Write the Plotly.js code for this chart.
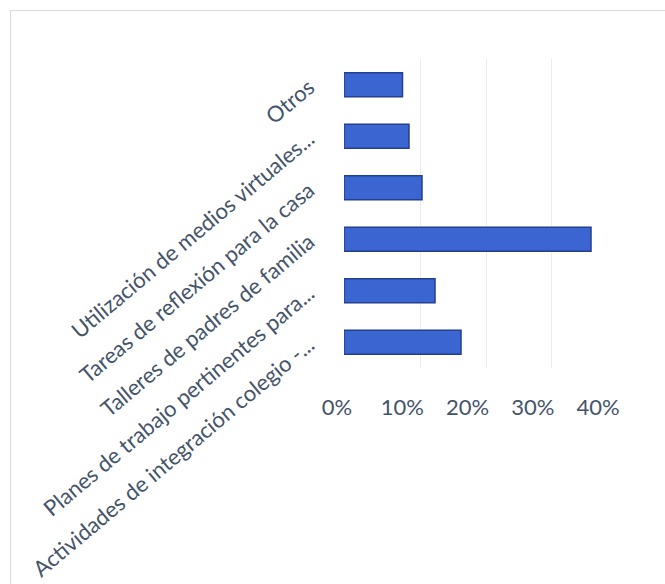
<!DOCTYPE html>
<html>
<head>
<meta charset="utf-8">
<script src="https://cdn.plot.ly/plotly-3.0.1.min.js"></script>
<style>
  html, body { margin: 0; padding: 0; background: #ffffff; }
  #wrap { position: relative; width: 665px; height: 584px; overflow: hidden; }
  #frame { position: absolute; left: 10px; top: 10px; width: 700px; height: 600px;
           border-top: 1.5px solid #d9dce6; border-left: 1.5px solid #d9dce6; pointer-events: none; }
  #chart { position: absolute; left: 0; top: 0; width: 665px; height: 584px; }
</style>
</head>
<body>
<div id="wrap">
  <div id="chart"></div>
  <div id="frame"></div>
</div>
<script>
// Categories, bottom to top as drawn
const categories = [
  "Actividades de integración colegio -...",
  "Planes de trabajo pertinentes para...",
  "Talleres de padres de familia",
  "Tareas de reflexión para la casa",
  "Utilización de medios virtuales...",
  "Otros"
];
const values = [0.18, 0.14, 0.38, 0.12, 0.10, 0.09];
const tickValues = [0, 0.1, 0.2, 0.3, 0.4];
const tickLabels = ["0%", "10%", "20%", "30%", "40%"];

const W = 665, H = 584;
const textColor = "#44546a";
const fontFamily = "Lato, 'Open Sans', sans-serif";
const fontSize = 22;

// invisible helper traces so the grid and label axes get drawn (drawn first, behind the bars)
const gridTrace = { type: "scatter", mode: "markers", x: [0, 0.4], y: [categories[0], categories[0]],
  xaxis: "x", yaxis: "y", marker: { opacity: 0 }, hoverinfo: "skip", showlegend: false };
const labelTrace = { type: "scatter", mode: "markers", x: [0, 0.4], y: [categories[0], categories[0]],
  xaxis: "x2", yaxis: "y", marker: { opacity: 0 }, hoverinfo: "skip", showlegend: false };
const barTrace = {
  type: "bar",
  orientation: "h",
  x: values,
  y: categories,
  xaxis: "x3",
  yaxis: "y",
  marker: { color: "#3b66d2", line: { color: "#233f8f", width: 1.5 } },
  hoverinfo: "x+y",
  showlegend: false
};

const px = v => v / W;
const py = v => 1 - v / H;

const layout = {
  width: W, height: H,
  margin: { l: 0, r: 0, t: 0, b: 0 },
  paper_bgcolor: "rgba(0,0,0,0)",
  plot_bgcolor: "rgba(0,0,0,0)",
  font: { family: fontFamily, color: textColor, size: fontSize },
  bargap: 0.53,
  xaxis: {
    domain: [px(355), px(617)], range: [0, 0.4], anchor: "y",
    tickvals: tickValues, showticklabels: false, showgrid: true, gridcolor: "#ececec",
    gridwidth: 1, zeroline: false, showline: false, ticks: ""
  },
  xaxis2: {
    domain: [px(337), px(598)], range: [0, 0.4], anchor: "y",
    tickvals: tickValues, ticktext: tickLabels, showgrid: false, zeroline: false,
    showline: false, ticks: "", ticklabelstandoff: 24,
    tickfont: { family: fontFamily, color: textColor, size: fontSize }
  },
  xaxis3: {
    domain: [px(344), px(604)], range: [0, 0.4], anchor: "y",
    showgrid: false, zeroline: false, showticklabels: false, showline: false, ticks: ""
  },
  yaxis: {
    domain: [py(368), py(59)], type: "category", categoryorder: "array", categoryarray: categories,
    anchor: "x3", showgrid: false, zeroline: false, showline: false, ticks: "",
    tickangle: -40, automargin: false, ticklabelstandoff: 34,
    tickfont: { family: fontFamily, color: textColor, size: fontSize }
  }
};

Plotly.newPlot("chart", [gridTrace, labelTrace, barTrace], layout, { displayModeBar: false, staticPlot: true });
</script>
</body>
</html>
